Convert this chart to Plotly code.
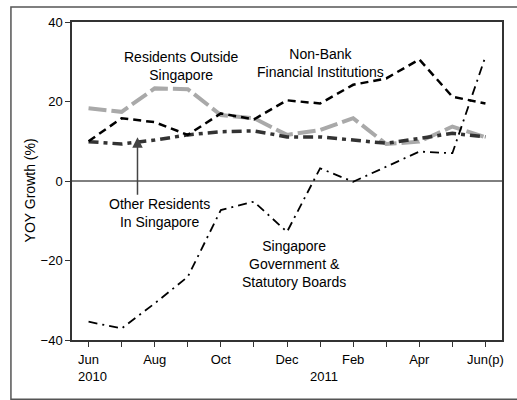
import plotly.graph_objects as go

# months Jun 2010 .. Jun 2011 as index 0..12
months = list(range(13))
tick_labels = ["Jun", "", "Aug", "", "Oct", "", "Dec", "", "Feb", "", "Apr", "", "Jun(p)"]
years = [(0, "2010"), (7, "2011")]

non_bank = [10, 15.8, 14.8, 11.6, 17, 15.5, 20.3, 19.5, 24.2, 25.8, 30.6, 21.2, 19.5]
res_outside = [18.3, 17.4, 23.3, 23.1, 16.6, 15.8, 11.6, 12.8, 15.8, 9.3, 9.9, 13.7, 11]
other_res = [9.9, 9.3, 10.3, 11.6, 12.4, 12.6, 11.1, 11.1, 10.3, 9.5, 10.7, 12, 11.1]
govt = [-35.4, -37.1, -30.8, -24.1, -7.3, -5.2, -12.8, 3.2, -0.2, 3.6, 7.4, 7, 31.3]

FONT = "Liberation Sans, Arial, sans-serif"

fig = go.Figure()

fig.add_trace(go.Scatter(x=months, y=res_outside, mode="lines", name="Residents Outside Singapore",
                         line=dict(color="#a9a9a9", width=4, dash="18px,5px")))
fig.add_trace(go.Scatter(x=months, y=other_res, mode="lines", name="Other Residents In Singapore",
                         line=dict(color="#333333", width=3.5, dash="10px,5px,4px,5px")))
fig.add_trace(go.Scatter(x=months, y=non_bank, mode="lines", name="Non-Bank Financial Institutions",
                         line=dict(color="black", width=2.5, dash="8px,5px")))
fig.add_trace(go.Scatter(x=months, y=govt, mode="lines", name="Singapore Government & Statutory Boards",
                         line=dict(color="black", width=1.8, dash="9px,5px,2px,5px")))

# zero line
fig.add_shape(type="line", xref="paper", yref="y", x0=0, x1=1, y0=0, y1=0,
              line=dict(color="black", width=1), layer="below")

# outer frame, open on the right (it runs to the page edge there)
fx0, fx1, fy0, fy1 = -0.142, 1.035, -0.186, 1.047
fig.add_shape(type="path", xref="paper", yref="paper",
              path=f"M {fx1},{fy0} L {fx0},{fy0} L {fx0},{fy1} L {fx1},{fy1}",
              line=dict(color="#555555", width=1.5))

labels = [
    (2.8, 0.862, "Residents Outside<br>Singapore"),
    (7.0, 0.871, "Non-Bank<br>Financial Institutions"),
    (2.15, 0.399, "Other Residents<br>In Singapore"),
    (6.2, 0.239, "Singapore<br>Government &<br>Statutory Boards"),
]
for x, y, t in labels:
    fig.add_annotation(x=x, y=y, xref="x", yref="paper", text=t, showarrow=False,
                       xanchor="center", yanchor="middle",
                       font=dict(family=FONT, size=14, color="black"), align="center")

# arrow pointing at Other Residents line
fig.add_annotation(x=1.48, y=11, xref="x", yref="y", text="", showarrow=True,
                   ax=0, ay=59, arrowhead=2, arrowsize=1.4, arrowwidth=1.5, arrowcolor="#444444")

# y-axis title
fig.add_annotation(x=-0.098, y=0.47, xref="paper", yref="paper", text="YOY Growth (%)",
                   xanchor="center", yanchor="middle",
                   textangle=-90, showarrow=False, font=dict(family=FONT, size=14, color="black"))

for m, yr in years:
    fig.add_annotation(x=m, y=-0.116, xref="x", yref="paper", text=yr, showarrow=False,
                       xanchor="center", yanchor="middle",
                       xshift=4, font=dict(family=FONT, size=13, color="black"))

fig.update_layout(
    width=517, height=400,
    margin=dict(l=72, r=15, t=22, b=60),
    paper_bgcolor="white", plot_bgcolor="white",
    showlegend=False,
    font=dict(family=FONT, size=13, color="black"),
    xaxis=dict(range=[-0.5, 12.5], tickvals=months, ticktext=tick_labels, ticks="outside",
               ticklen=5, tickcolor="#333", showgrid=False, zeroline=False, showline=True,
               linecolor="#333", linewidth=1.5, mirror=True, ticklabelstandoff=2),
    yaxis=dict(range=[-40, 40], tickvals=[-40, -20, 0, 20, 40], ticks="outside", ticklen=5,
               tickcolor="#333", showgrid=False, zeroline=False, showline=True,
               linecolor="#333", linewidth=1.5, mirror=True),
)

fig.write_html("out.html", config={"displayModeBar": False},
               post_script="document.body.style.margin='0';")
